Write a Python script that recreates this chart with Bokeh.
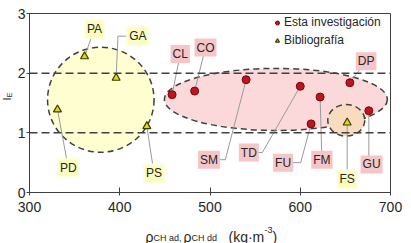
import math
from bokeh.plotting import figure
from bokeh.layouts import column, row
from bokeh.models import ColumnDataSource, Span, Legend, LegendItem, Range1d
from bokeh.core.properties import value
from bokeh.embed import file_html
from bokeh.resources import INLINE

# ---------------- data ----------------
x_ticks = [300, 400, 500, 600, 700]
y_ticks = [0, 1, 2, 3]
ref_levels = [1, 2]

inv_names = ["CL", "CO", "SM", "TD", "FU", "FM", "DP", "GU"]
inv_dens = [458, 483, 540, 600, 612, 622, 655, 676]
inv_ie = [1.64, 1.70, 1.89, 1.78, 1.15, 1.60, 1.84, 1.37]

bib_names = ["PA", "GA", "PD", "PS", "FS"]
bib_dens = [361, 396, 331, 430, 652]
bib_ie = [2.28, 1.92, 1.39, 1.11, 1.17]

# group ellipses: Bibliografía, Esta investigación, FS
ell_x = [379, 573, 651]
ell_y = [1.555, 1.56, 1.21]
ell_w = [118, 247, 41]
ell_h = [1.76, 1.04, 0.53]

# label anchors (annotation placement) and leader elbows
inv_lab_x = [467, 495, 499, 543, 581, 624, 673, 679]
inv_lab_y = [2.32, 2.43, 0.55, 0.67, 0.50, 0.55, 2.20, 0.47]
inv_elb_x = [None, None, 517, 558, 600.5, None, None, 676]
inv_elb_y = [None, None, 0.55, 0.67, 0.50, None, None, 0.60]

bib_lab_x = [372, 420, 343, 438, 652]
bib_lab_y = [2.74, 2.62, 0.41, 0.32, 0.22]
bib_elb_x = [None, 398, None, None, None]
bib_elb_y = [None, 2.62, None, None, None]

FONT = "Liberation Sans"
TXT = "#262626"
AX = "#404040"

W, H = 411, 243
YLAB_W = 13         # strip for the vertical axis title
XLAB_H = 25         # strip for the horizontal axis title
PW, PH = W - YLAB_W, H - XLAB_H
L, R, T, B = 29 - YLAB_W, 21, 13, 26

p = figure(width=PW, height=PH, x_range=(300, 700), y_range=(0, 3),
           output_backend="svg", toolbar_location=None,
           min_border_left=L, min_border_right=R, min_border_top=T, min_border_bottom=B)
p.background_fill_color = "white"
p.border_fill_color = "white"
p.outline_line_color = AX
p.outline_line_width = 1
p.xgrid.visible = False
p.ygrid.visible = False

for ax, ticks, stand in ((p.xaxis, x_ticks, 6), (p.yaxis, y_ticks, 1)):
    ax.ticker = ticks
    ax.minor_tick_line_color = None
    ax.major_tick_in = 5
    ax.major_tick_out = 3
    ax.major_tick_line_color = AX
    ax.axis_line_color = AX
    ax.major_label_text_font = FONT
    ax.major_label_text_font_size = "14px"
    ax.major_label_text_color = TXT
    ax.major_label_standoff = stand

# ellipses
ell_fill = ["#fefed0", "#fbd9da", "#f9dcc0"]
p.ellipse(x=ell_x, y=ell_y, width=ell_w, height=ell_h,
          fill_color=ell_fill, line_color=AX, line_width=1.5, line_dash="6 4")

for lv in ref_levels:
    p.add_layout(Span(location=lv, dimension="width", line_color=AX,
                      line_width=1.5, line_dash="8 4"))

# leader lines
def leaders(xs, ys, lx, ly, ex, ey):
    oxs, oys = [], []
    for i in range(len(xs)):
        px = [xs[i]]
        py = [ys[i]]
        if ex[i] is not None:
            px.append(ex[i]); py.append(ey[i])
        px.append(lx[i]); py.append(ly[i])
        oxs.append(px); oys.append(py)
    return oxs, oys

lxs, lys = leaders(inv_dens, inv_ie, inv_lab_x, inv_lab_y, inv_elb_x, inv_elb_y)
bxs, bys = leaders(bib_dens, bib_ie, bib_lab_x, bib_lab_y, bib_elb_x, bib_elb_y)
p.multi_line(xs=lxs + bxs, ys=lys + bys, line_color="#9a9a9a", line_width=1)

# points
r_inv = p.scatter(inv_dens, inv_ie, marker="circle", size=8,
                  fill_color="#c0141e", line_color="#6e0a10", line_width=1)
r_bib = p.scatter(bib_dens, bib_ie, marker="triangle", size=8,
                  fill_color="#d9d91a", line_color="#3d3d00", line_width=1.2)

# labels
src_inv = ColumnDataSource(dict(x=inv_lab_x, y=inv_lab_y, t=inv_names))
src_bib = ColumnDataSource(dict(x=bib_lab_x, y=bib_lab_y, t=bib_names))
p.text(x="x", y="y", text="t", source=src_inv, text_align="center",
       text_baseline="middle", text_font=value(FONT), text_font_size="12px",
       text_color=TXT, background_fill_color="#f5c5c8", padding=2)
p.text(x="x", y="y", text="t", source=src_bib, text_align="center",
       text_baseline="middle", text_font=value(FONT), text_font_size="12px",
       text_color=TXT, background_fill_color="#fcfcbe",
       border_line_color="#fdfde0", border_line_width=2, padding=2)

# legend
leg = Legend(items=[LegendItem(label="Esta investigación", renderers=[r_inv]),
                    LegendItem(label="Bibliografía", renderers=[r_bib])],
             location=(243, 145), padding=0, margin=0, spacing=4,
             glyph_width=10, glyph_height=13, label_height=13, label_standoff=2,
             label_text_font=FONT, label_text_font_size="12px", label_text_color=TXT,
             border_line_color=None, background_fill_alpha=0)
p.add_layout(leg, "center")

# ---------- axis-title strips (pixel coordinate canvases) ----------
def strip(w, h):
    f = figure(width=w, height=h, x_range=Range1d(0, w), y_range=Range1d(0, h),
               output_backend="svg", toolbar_location=None,
               x_axis_location=None, y_axis_location=None, min_border=0)
    f.min_border_left = f.min_border_right = f.min_border_top = f.min_border_bottom = 0
    f.outline_line_color = None
    f.xgrid.visible = False
    f.ygrid.visible = False
    f.background_fill_color = "white"
    f.border_fill_color = "white"
    return f

# horizontal title: ρCH ad, ρCH dd (kg·m-3)
xt = strip(W, XLAB_H)
def put_x(text, cx, cy, size):
    xt.text(x=[cx], y=[H - cy], text=[text], text_font=value(FONT), text_font_size=size,
            text_color=TXT, text_align="left", text_baseline="alphabetic")

put_x("ρ", 145, 236, "14px")
put_x("CH ad,", 153, 237, "9px")
put_x("ρ", 183, 236, "14px")
put_x("CH dd", 191, 237, "9px")
put_x("(kg·m", 228, 236, "14px")
put_x("-3", 264, 229, "9px")
put_x(")", 272, 236, "14px")

# vertical title: I_E
yt = strip(YLAB_W, PH)
def put_y(text, cx, cy, size, align):
    yt.text(x=[cx], y=[PH - cy], text=[text], text_font=value(FONT), text_font_size=size,
            text_color=TXT, text_align=align, text_baseline="middle",
            angle=math.pi / 2)

put_y("I", 6.5, 104, "11px", "center")
put_y("E", 9, 102, "7px", "left")

layout = column(row(yt, p, spacing=0), xt, spacing=0)
open("out.html", "w").write(file_html(layout, INLINE))
